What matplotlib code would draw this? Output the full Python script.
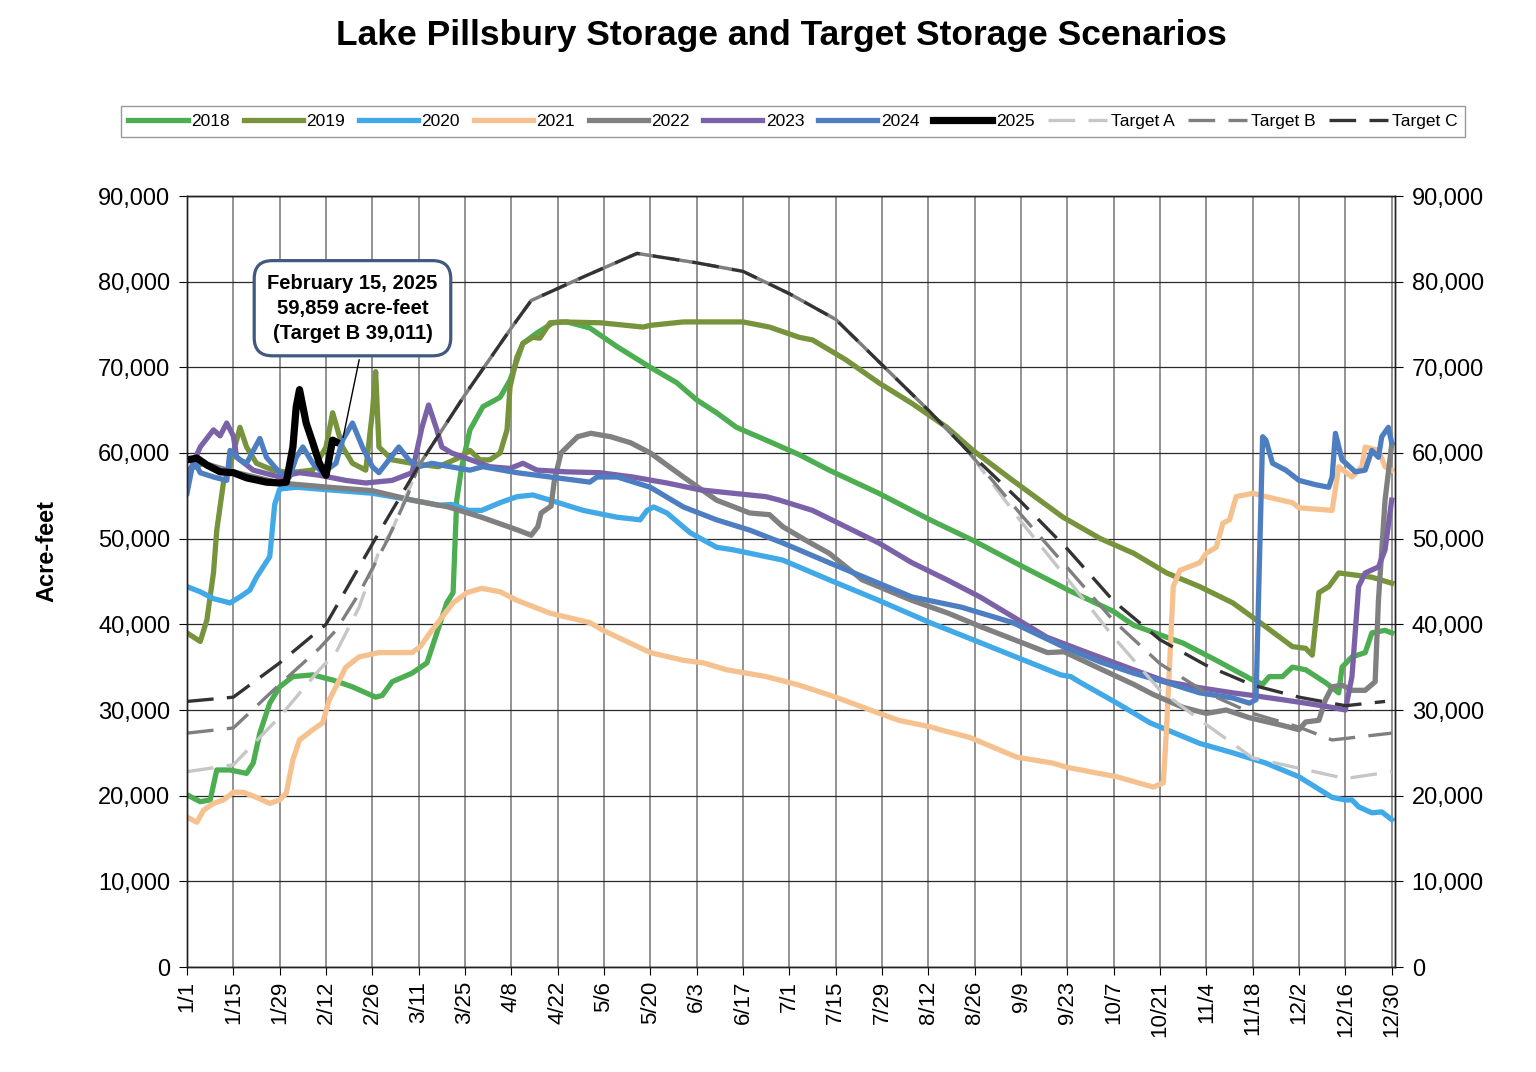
import matplotlib
matplotlib.use("Agg")
import matplotlib.pyplot as plt
from matplotlib.ticker import FuncFormatter

plt.rcParams['font.family'] = ['Liberation Sans', 'DejaVu Sans']

# x = day of year (leap-year calendar, 0 = 1/1), values in thousands of acre-feet
tick_days = list(range(0, 365, 14))
tick_labels = ['1/1', '1/15', '1/29', '2/12', '2/26', '3/11', '3/25', '4/8', '4/22',
               '5/6', '5/20', '6/3', '6/17', '7/1', '7/15', '7/29', '8/12', '8/26',
               '9/9', '9/23', '10/7', '10/21', '11/4', '11/18', '12/2', '12/16', '12/30']

d2018 = [0, 4, 7, 9, 13, 18, 20, 22, 25, 28, 32, 38, 44, 50, 57, 59, 62, 68, 72.5, 75.5, 78.5,
         80.4, 81.5, 83, 85.5, 89.4, 94.6, 97.6, 101.5, 105.7, 110.6, 114.8, 121.7, 130, 140,
         148, 154, 160, 166, 175, 185, 194, 209, 224.5, 237.5, 251.7, 266.8, 280, 286, 301, 311,
         322, 325, 327, 331, 334, 338, 344, 348, 349, 352, 356, 358, 362, 364]
v2018 = [20.1, 19.3, 19.5, 23.0, 23.0, 22.6, 23.8, 27.3, 30.8, 32.7, 33.9, 34.1, 33.5, 32.7, 31.5,
         31.7, 33.3, 34.3, 35.5, 39.0, 42.5, 43.7, 54.5, 58.4, 62.7, 65.4, 66.5, 68.5, 72.8, 74.0,
         75.2, 75.3, 74.6, 72.4, 70.0, 68.2, 66.2, 64.7, 63.0, 61.5, 59.8, 58.0, 55.3, 52.2, 49.8,
         46.9, 43.9, 41.5, 39.9, 37.8, 35.8, 33.5, 33.0, 33.9, 33.9, 35.0, 34.7, 33.2, 32.0, 35.0,
         36.2, 36.7, 39.0, 39.3, 39.0]

d2019 = [0, 4, 6, 8, 9, 11, 12.5, 14, 16, 18, 21, 26, 31, 38, 42, 44, 47, 50, 54, 56, 57, 58, 62,
         68, 76, 82.5, 85.5, 88.5, 91.5, 94.6, 96.7, 97.6, 99.7, 101.5, 104.5, 106.6, 109.7, 113,
         125, 137.8, 140, 150, 160, 168, 176, 185, 189, 199, 209, 219, 229.6, 237.5, 249.5, 264.7,
         276, 286, 296, 306, 316, 326, 334, 338, 340, 342, 345, 348, 352, 358, 364]
v2019 = [39.0, 38.0, 40.5, 46.0, 51.0, 56.5, 57.8, 60.0, 63.0, 60.7, 58.8, 58.0, 57.7, 58.0, 60.7,
         64.7, 60.7, 58.8, 58.0, 64.7, 69.5, 60.7, 59.2, 58.8, 58.4, 59.5, 60.3, 59.2, 59.2, 60.0,
         62.7, 67.7, 71.2, 72.8, 73.5, 73.4, 75.2, 75.3, 75.2, 74.7, 74.9, 75.3, 75.3, 75.3, 74.7,
         73.5, 73.2, 70.9, 68.2, 65.8, 63.0, 60.3, 56.8, 52.5, 50.0, 48.3, 46.0, 44.4, 42.5, 39.7,
         37.4, 37.2, 36.4, 43.7, 44.4, 46.0, 45.8, 45.5, 44.8]

d2020 = [0, 4, 8, 13, 16, 19, 21, 23, 25, 26.5, 28, 33, 56, 68, 76, 80, 85, 89, 94.6, 99.7, 104.5,
         109.7, 119.7, 130, 136.9, 139, 141, 145, 152, 160, 165, 170, 180, 194, 209, 224.5, 237.5,
         251.7, 264, 267, 270, 281, 291, 296, 306, 316, 326, 336, 346, 350, 352, 354, 358, 361, 364]
v2020 = [44.4, 43.8, 43.0, 42.5, 43.2, 44.0, 45.5, 46.7, 47.9, 54.0, 55.8, 56.0, 55.3, 54.5, 53.9,
         54.0, 53.3, 53.3, 54.2, 54.9, 55.1, 54.5, 53.3, 52.5, 52.2, 53.3, 53.7, 53.0, 50.7, 49.0,
         48.7, 48.3, 47.5, 45.2, 42.8, 40.2, 38.2, 36.0, 34.1, 33.9, 33.2, 30.8, 28.5, 27.7, 26.1,
         25.0, 23.8, 22.2, 19.8, 19.5, 19.5, 18.7, 18.0, 18.1, 17.2]

d2021 = [0, 3, 5, 8, 11, 14, 17, 21, 25, 28, 30, 32, 34, 38, 41, 43, 45, 48, 52, 58, 68, 70.5, 73.4,
         76.4, 80.4, 84.6, 89, 94.6, 99.7, 109.7, 121.7, 125.7, 140, 150, 156, 163, 175, 185, 196,
         210, 215, 225, 227.5, 236.5, 250.7, 261.6, 266, 281, 292, 295, 296, 298, 300, 306, 308,
         311, 313, 315, 317, 322, 326, 334, 336, 346, 348, 352, 355, 356, 360, 362, 364]
v2021 = [17.5, 16.9, 18.3, 19.1, 19.5, 20.4, 20.4, 19.8, 19.1, 19.5, 20.3, 24.2, 26.5, 27.7, 28.5,
         31.2, 32.7, 35.0, 36.2, 36.7, 36.7, 37.4, 39.0, 40.5, 42.5, 43.7, 44.2, 43.8, 42.8, 41.3,
         40.2, 39.3, 36.7, 35.8, 35.5, 34.7, 33.9, 32.9, 31.5, 29.5, 28.8, 28.0, 27.7, 26.8, 24.5,
         23.8, 23.3, 22.2, 21.0, 21.5, 28.0, 44.4, 46.3, 47.2, 48.3, 49.0, 51.8, 52.2, 54.9, 55.3,
         54.9, 54.2, 53.6, 53.3, 58.4, 57.2, 58.4, 60.7, 60.3, 58.4, 58.0]

d2022 = [0, 5, 14, 28, 43, 56, 68, 79, 89, 100, 104, 106, 107, 110, 111, 113, 118, 122, 128, 134,
         140, 150, 160, 170, 176, 180, 187, 194, 204, 209, 219, 230, 240, 250, 260, 265, 276, 286,
         292, 301, 308, 314, 321, 331, 336, 338, 342, 344, 346, 349, 352, 356, 359, 360, 362, 364]
v2022 = [58.0, 58.8, 57.8, 56.5, 56.0, 55.6, 54.5, 53.7, 52.5, 51.0, 50.4, 51.4, 53.0, 53.8, 56.8,
         60.0, 61.9, 62.3, 61.9, 61.2, 60.0, 57.2, 54.5, 53.0, 52.8, 51.4, 49.8, 48.3, 45.2, 44.4,
         42.8, 41.3, 39.7, 38.2, 36.7, 36.8, 34.8, 33.0, 31.8, 30.3, 29.6, 30.0, 29.1, 28.2, 27.7,
         28.6, 28.8, 31.2, 32.7, 32.9, 32.3, 32.3, 33.3, 42.8, 54.5, 61.0]

d2023 = [0, 4, 6, 8, 10, 12, 14, 15, 20, 28, 34, 40, 48, 54, 62, 68, 71, 73, 75.5, 77, 80, 85, 91.5,
         97.6, 101.5, 105.7, 114.8, 124.8, 134.7, 145, 155, 165, 175, 179, 189, 199, 209, 219,
         229.6, 239.6, 249.5, 259.8, 270, 286, 296, 306, 316, 322, 331, 338, 346, 350, 352, 354,
         356, 360, 362, 364]
v2023 = [57.2, 60.7, 61.7, 62.7, 62.0, 63.5, 62.0, 59.5, 58.0, 57.2, 57.7, 57.4, 56.8, 56.5, 56.8,
         57.7, 63.0, 65.6, 62.7, 60.7, 60.0, 59.3, 58.4, 58.2, 58.8, 58.0, 57.8, 57.7, 57.2, 56.5,
         55.7, 55.3, 54.9, 54.5, 53.3, 51.4, 49.5, 47.2, 45.2, 43.2, 40.9, 38.5, 37.0, 34.7, 33.3,
         32.6, 32.0, 31.7, 31.2, 30.8, 30.3, 30.0, 33.9, 44.4, 46.0, 46.7, 48.7, 54.5]

d2024 = [0, 2, 4, 8, 12, 13, 16, 18, 22, 24, 28, 31, 33, 35, 38, 41, 45, 47, 50, 53, 56, 58, 61, 64,
         67, 70, 74, 79.5, 85.5, 89.4, 99.7, 109.7, 117.8, 121.7, 123.9, 130, 140, 150, 160, 170,
         180, 194, 209, 219, 234, 249.5, 264.7, 276, 286, 296, 306, 316, 321, 323, 324, 325, 326,
         328, 332, 336, 341, 345, 346, 347, 349, 353, 356, 358, 360, 361, 363, 364]
v2024 = [55.3, 59.2, 57.7, 57.2, 56.8, 60.3, 59.2, 58.8, 61.7, 59.5, 57.7, 57.2, 59.5, 60.7, 58.8,
         57.7, 58.8, 61.5, 63.5, 60.7, 58.4, 57.7, 59.2, 60.7, 59.2, 58.4, 58.8, 58.4, 58.0, 58.4,
         57.7, 57.2, 56.8, 56.6, 57.2, 57.2, 56.0, 53.7, 52.2, 51.0, 49.5, 47.2, 44.8, 43.2, 42.0,
         40.2, 37.4, 35.6, 34.3, 33.2, 32.0, 31.4, 30.8, 31.2, 46.7, 61.9, 61.5, 58.8, 58.0, 56.8,
         56.3, 56.0, 57.2, 62.3, 59.2, 57.8, 58.0, 60.3, 59.5, 61.9, 63.0, 61.2]

d2025 = [0, 3, 6, 10, 14, 18, 24, 28, 30, 32, 33, 34, 36, 38, 40, 42, 44, 45]
v2025 = [59.2, 59.4, 58.6, 57.8, 57.7, 57.1, 56.6, 56.5, 56.6, 60.7, 65.4, 67.4, 63.5, 61.2, 58.8,
         57.4, 61.5, 61.3]

# target curves: separate spring rise, shared summer curve, separate fall drawdown
dA_spring = [0, 14, 28, 40, 45, 52, 58, 62]
vA_spring = [22.8, 23.6, 29.2, 34.7, 36.7, 42.0, 48.5, 51.0]
dB_spring = [0, 14, 28, 40, 45, 52, 60.5, 66.5]
vB_spring = [27.3, 27.9, 33.0, 37.2, 39.3, 43.6, 49.8, 54.9]
dC_spring = [0, 14, 28, 42, 52, 58]
vC_spring = [31.0, 31.5, 35.5, 40.0, 46.7, 50.7]
d_shared = [70, 84, 98, 104, 120, 136, 154, 168, 182, 196, 210, 224, 236]
v_shared = [58.5, 66.8, 74.6, 77.8, 80.6, 83.3, 82.2, 81.2, 78.6, 75.6, 70.3, 65.0, 60.2]
dA_fall = [252, 266, 280, 294, 308, 322, 336, 350, 364]
vA_fall = [52.0, 45.3, 38.5, 32.3, 28.3, 24.4, 23.2, 22.0, 22.8]
dB_fall = [252, 266, 280, 294, 308, 322, 336, 346, 364]
vB_fall = [52.8, 46.6, 40.4, 35.4, 32.0, 29.6, 28.0, 26.5, 27.3]
dC_fall = [252, 266, 280, 294, 308, 322, 336, 350, 362]
vC_fall = [54.3, 48.8, 42.7, 38.2, 35.2, 32.9, 31.5, 30.5, 31.0]

years = [('2018', d2018, v2018, '#4cae50'),
         ('2019', d2019, v2019, '#77943c'),
         ('2020', d2020, v2020, '#41a9e8'),
         ('2021', d2021, v2021, '#f5c28f'),
         ('2022', d2022, v2022, '#808080'),
         ('2023', d2023, v2023, '#7b62a8'),
         ('2024', d2024, v2024, '#4e7ec2')]

targets = [('Target A', dA_spring, vA_spring, dA_fall, vA_fall, '#c6c6c6'),
           ('Target B', dB_spring, vB_spring, dB_fall, vB_fall, '#7f7f7f'),
           ('Target C', dC_spring, vC_spring, dC_fall, vC_fall, '#333333')]

fig = plt.figure(figsize=(15.36, 10.72), dpi=100)
ax = fig.add_axes([187 / 1536, 1 - 967 / 1072, (1395 - 187) / 1536, (967 - 196) / 1072])

for name, d, v, c in years:
    ax.plot(d, [x * 1000 for x in v], color=c, lw=3.8, label=name, solid_joinstyle='round')
ax.plot(d2025, [x * 1000 for x in v2025], color='black', lw=5.2, label='2025', solid_joinstyle='round')

for name, ds, vs, df, vf, c in targets:
    d = ds + d_shared + df
    v = vs + v_shared + vf
    ax.plot(d, [x * 1000 for x in v], color=c, lw=2.4, ls=(0, (8, 4)), label=name)

ax.set_xlim(0, 365)
ax.set_ylim(0, 90000)
ax.set_xticks(tick_days)
ax.set_xticklabels(tick_labels, rotation=90, fontsize=16)
ax.set_yticks(range(0, 90001, 10000))
fmt = FuncFormatter(lambda y, p: f'{int(y):,}')
ax.yaxis.set_major_formatter(fmt)
ax.tick_params(axis='y', labelsize=17, length=6, direction='out', pad=6)
ax.tick_params(axis='x', length=6, direction='out', pad=4)
ax.grid(axis='x', color='#8a8a8a', lw=1.3)
ax.grid(axis='y', color='#2a2a2a', lw=0.9)
ax.set_axisbelow(True)
for s in ax.spines.values():
    s.set_color('#222222')
    s.set_linewidth(1.0)

ax2 = ax.twinx()
ax2.set_ylim(0, 90000)
ax2.set_yticks(range(0, 90001, 10000))
ax2.yaxis.set_major_formatter(fmt)
ax2.tick_params(axis='y', labelsize=17, length=6, direction='out', pad=6)
for s in ax2.spines.values():
    s.set_color('#222222')
    s.set_linewidth(1.0)

fig.text(47 / 1536, 1 - 551 / 1072, 'Acre-feet', rotation=90, ha='center', va='center',
         fontsize=17, fontweight='bold')
fig.text(0.5085, 1 - 36 / 1072, 'Lake Pillsbury Storage and Target Storage Scenarios',
         ha='center', va='center', fontsize=25.5, fontweight='bold')

ax.annotate('February 15, 2025\n59,859 acre-feet\n(Target B 39,011)',
            xy=(47, 61500), xytext=(50, 76900), ha='center', va='center',
            fontsize=14.5, fontweight='bold', linespacing=1.4,
            bbox=dict(boxstyle='round,pad=0.65,rounding_size=0.9', fc='white',
                      ec='#41597f', lw=2.3),
            arrowprops=dict(arrowstyle='-', color='black', lw=1, relpos=(0.56, 0)))

handles, labels = ax.get_legend_handles_labels()
leg = fig.legend(handles, labels, loc='center', bbox_to_anchor=(793 / 1536, 1 - 121.5 / 1072),
                 ncol=11, frameon=True, fancybox=False, edgecolor='#808080', fontsize=12.5,
                 handlelength=3.4, handletextpad=0.2, columnspacing=0.8, borderpad=0.45)
leg.get_frame().set_linewidth(1.0)

fig.savefig('out.png', dpi=100)
